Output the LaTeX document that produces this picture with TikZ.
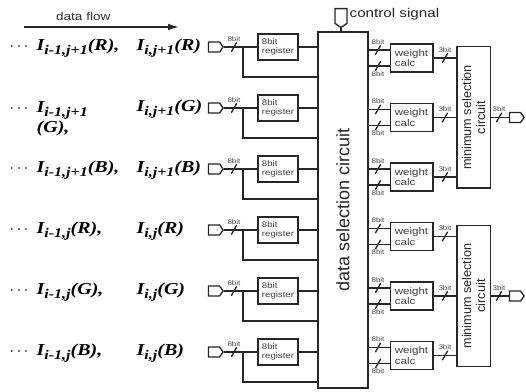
\documentclass[tikz,border=0pt]{standalone}
\usepackage{fontspec}
\setmainfont{Liberation Serif}
\setsansfont[FakeStretch=1.2]{Liberation Sans}
\newfontfamily\pixfont[FakeStretch=1.2]{Liberation Serif}
\newfontfamily\rotfont{Liberation Sans}
\usetikzlibrary{arrows.meta,positioning,shapes.symbols}

\newcommand{\pixval}[2]{\textbf{\textit{I\raisebox{-3pt}{\fontsize{10}{11}\selectfont #1}#2}}}

\begin{document}
\begin{tikzpicture}[
    x=0.75pt, y=-0.75pt,
    >=Latex,
    line width=1pt,
    every node/.style={font=\sffamily},
    wire/.style={draw=black!85},
    port/.style={
        signal,
        signal to=east,
        signal pointer angle=110,
        draw=black!85,
        minimum width=11pt,
        minimum height=7.5pt,
        inner sep=0pt
    },
    reg/.style={
        rectangle,
        draw=black!85,
        align=left,
        font=\sffamily\fontsize{6}{6.5}\selectfont,
        text=black!75,
        minimum width=30pt,
        minimum height=19.5pt,
        inner sep=1pt
    },
    calc/.style={reg, font=\sffamily\fontsize{7.2}{8}\selectfont, minimum width=32pt, minimum height=21pt},
    bigbox/.style={rectangle, draw=black!85, inner sep=0pt},
    tag/.style={font=\sffamily\fontsize{5}{5}\selectfont, text=black!70, inner sep=0.5pt},
    pixlabel/.style={font=\pixfont\fontsize{12.5}{14}\selectfont, inner sep=0pt, anchor=base west},
    bus above/.pic={\draw[wire] (-2pt,-3.5pt) -- (2pt,3.5pt); \node[tag, above=3.2pt] {#1};},
    bus below/.pic={\draw[wire] (-2pt,-3.5pt) -- (2pt,3.5pt); \node[tag, below=3.2pt] {#1};}
]
\useasboundingbox (0,0) rectangle (526,392);

% data flow arrow
\coordinate (flowstart) at (24,27);
\coordinate (flowend) at (180,27);
\draw[->, line width=1.6pt, black!85, >={Latex[length=9pt,width=5pt]}] (flowstart) -- node[pos=0.38, above=1pt, font=\sffamily\fontsize{8.5}{9}\selectfont, text=black!80] (flowtext) {data flow} (flowend);

% main blocks
\node[bigbox, minimum width=37.5pt, minimum height=267pt,
      label={[rotate=90, font=\rotfont\fontsize{13.5}{14}\selectfont, text=black!85]center:data selection circuit}] (dsel) at (343,210) {};
\node[port, signal to=south, minimum width=9pt, minimum height=11pt] (ctrl) at (341,16) {};
\node[anchor=north west, inner sep=0pt, font=\sffamily\fontsize{9.5}{10}\selectfont, text=black!85] (ctrltext) at ([xshift=1pt]ctrl.north east) {control signal};
\draw[wire] (ctrl.south) -- (ctrl.south |- dsel.north);

\foreach \m/\yo in {0/117.5,1/296}{
    \node[bigbox, minimum width=25pt, minimum height=106pt,
          label={[rotate=90, align=center, font=\rotfont\fontsize{9.5}{10.5}\selectfont, text=black!85]center:minimum selection\\circuit}] (msel\m) at (473.5,\yo) {};
    \node[port] (out\m) at (515,\yo) {};
    \draw[wire] (msel\m.east) -- (out\m.west);
    \pic at (499,\yo) {bus above=3bit};
}

% one row per colour channel
\foreach \k in {0,...,5}{
    \pgfmathsetmacro{\yy}{47+61*\k}
    \pgfmathsetmacro{\yc}{58+59.5*\k}
    \pgfmathtruncatemacro{\m}{\k/3}
    \node[port] (in\k) at (214,\yy) {};
    \node[reg] (reg\k) at (278,\yy) {8bit\\register};
    \coordinate (jn\k) at (243,\yy);
    \coordinate (fb\k) at (318,\yy+30);
    \draw[wire] (in\k.east) -- (reg\k.west);
    \draw[wire] (reg\k.east) -- (reg\k.east -| dsel.west);
    \draw[wire] (jn\k) |- (fb\k);
    \pic at (234,\yy) {bus above=8bit};
    \node[calc] (wc\k) at (411.5,\yc) {weight\\calc};
    \draw[wire] ([yshift=6pt]wc\k.west) -- ([yshift=6pt]wc\k.west -| dsel.east);
    \draw[wire] ([yshift=-6pt]wc\k.west) -- ([yshift=-6pt]wc\k.west -| dsel.east);
    \pic at (378,\yc-8) {bus above=8bit};
    \pic at (378,\yc+8) {bus below=8bit};
    \draw[wire] (wc\k.east) -- (wc\k.east -| msel\m.west);
    \pic at (445,\yc) {bus above=3bit};
}

% pixel labels
\foreach \k/\sub/\ch in {0/{j+1}/R,1/{j+1}/G,2/{j+1}/B,3/j/R,4/j/G,5/j/B}{
    \pgfmathsetmacro{\yy}{47+61*\k}
    \node[pixlabel] (cur\k) at (136,\yy+4) {\pixval{i,\sub}{(\ch)}};
}
\foreach \k/\sub/\ch in {0/{j+1}/R,2/{j+1}/B,3/j/R,4/j/G,5/j/B}{
    \pgfmathsetmacro{\yy}{47+61*\k}
    \node[pixlabel] (prev\k) at (9,\yy+4) {$\cdots$\enspace\pixval{i-1,\sub}{(\ch),}};
}
\node[pixlabel, align=left] (prev1) at (9,133) {$\cdots$\enspace\pixval{i-1,j+1}{}\\[1pt]\hphantom{$\cdots$\enspace}\textbf{\textit{(G),}}};

\end{tikzpicture}
\end{document}
